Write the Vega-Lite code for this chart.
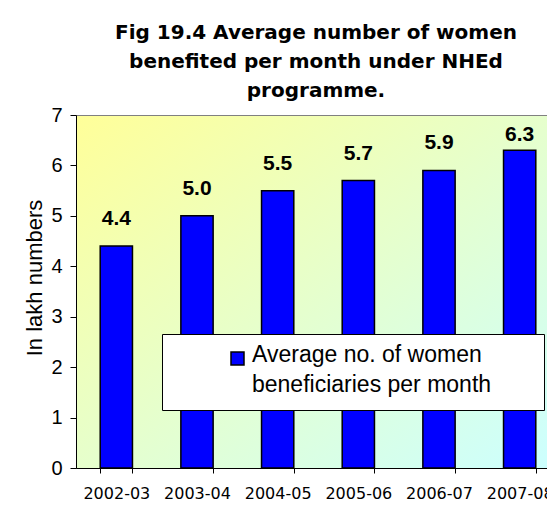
{
  "$schema": "https://vega.github.io/schema/vega-lite/v6.json",
  "autosize": {"type": "none"},
  "padding": {"left": 76, "top": 115, "right": 0, "bottom": 50},
  "width": 472,
  "height": 353,
  "background": "#ffffff",
  "view": {
    "fill": {"gradient": "linear", "x1": 0, "y1": 0, "x2": 1, "y2": 1,
      "stops": [{"offset": 0, "color": "#ffff99"}, {"offset": 0.5, "color": "#e6ffcc"}, {"offset": 1, "color": "#ccffff"}]},
    "stroke": "#808080",
    "strokeWidth": 1
  },
  "title": {
    "text": ["Fig 19.4  Average number of women", "benefited per month under NHEd", "programme."],
    "font": "DejaVu Sans",
    "fontSize": 20,
    "fontWeight": "bold",
    "color": "#000000",
    "lineHeight": 29,
    "anchor": "middle",
    "frame": "group",
    "baseline": "alphabetic",
    "offset": -12,
    "dx": 4
  },
  "data": {
    "values": [
      {"year": "2002-03", "value": 4.4, "series": "Average no. of women beneficiaries per month"},
      {"year": "2003-04", "value": 5.0, "series": "Average no. of women beneficiaries per month"},
      {"year": "2004-05", "value": 5.5, "series": "Average no. of women beneficiaries per month"},
      {"year": "2005-06", "value": 5.7, "series": "Average no. of women beneficiaries per month"},
      {"year": "2006-07", "value": 5.9, "series": "Average no. of women beneficiaries per month"},
      {"year": "2007-08", "value": 6.3, "series": "Average no. of women beneficiaries per month"}
    ]
  },
  "layer": [
    {
      "mark": {"type": "bar", "stroke": "#000000", "strokeWidth": 1.5},
      "encoding": {
        "x": {
          "field": "year", "type": "nominal", "sort": null,
          "scale": {"range": [0, 484], "paddingInner": 0.6, "paddingOuter": 0.3},
          "axis": {
            "title": null, "tickBand": "extent", "labelAngle": 0,
            "labelFont": "DejaVu Sans", "labelFontSize": 16, "labelColor": "#000000",
            "labelPadding": 12, "tickSize": 5, "tickColor": "#000000", "domainColor": "#000000"
          }
        },
        "y": {
          "field": "value", "type": "quantitative",
          "scale": {"domain": [0, 7], "nice": false},
          "axis": {
            "values": [0, 1, 2, 3, 4, 5, 6, 7], "grid": false,
            "title": "In lakh numbers", "titleFont": "Liberation Sans", "titleFontSize": 22,
            "titleFontWeight": "normal", "titleColor": "#000000", "titleAngle": -90,
            "titleX": -35, "titleY": 162.5, "titleAlign": "center", "titleBaseline": "alphabetic",
            "labelFont": "Liberation Sans", "labelFontSize": 20, "labelColor": "#000000",
            "labelPadding": 8, "labelFlush": false, "labelOverlap": false,
            "tickSize": 6, "tickColor": "#000000", "domainColor": "#000000"
          }
        },
        "color": {
          "field": "series", "type": "nominal",
          "scale": {"range": ["#0000ff"]},
          "legend": {
            "title": "\u00a0", "titleOrient": "right", "titlePadding": 40,
            "orient": "none", "legendX": 86, "legendY": 219, "padding": 13,
            "fillColor": "#ffffff", "strokeColor": "#000000",
            "symbolType": "square", "symbolSize": 169, "symbolStrokeColor": "#000000",
            "symbolStrokeWidth": 1.5, "symbolFillColor": "#0000ff", "symbolOffset": 51,
            "labelOffset": 3, "labelFont": "Liberation Sans", "labelFontSize": 23,
            "labelColor": "#000000", "labelLimit": 0,
            "labelExpr": "['Average no. of women', 'beneficiaries per month']",
            "encode": {"labels": {"update": {"lineHeight": {"value": 30}, "dy": {"value": -4}}}}
          }
        }
      }
    },
    {
      "transform": [{"filter": "datum.value <= 6.2"}],
      "mark": {"type": "text", "font": "Liberation Sans", "fontWeight": "bold", "fontSize": 21, "baseline": "alphabetic", "align": "center", "dy": -21, "color": "#000000"},
      "encoding": {
        "x": {"field": "year", "type": "nominal", "sort": null},
        "y": {"field": "value", "type": "quantitative"},
        "text": {"field": "value", "type": "quantitative", "format": ".1f"}
      }
    },
    {
      "transform": [{"filter": "datum.value > 6.2"}],
      "mark": {"type": "text", "font": "Liberation Sans", "fontWeight": "bold", "fontSize": 21, "baseline": "alphabetic", "align": "center", "dy": -9, "color": "#000000"},
      "encoding": {
        "x": {"field": "year", "type": "nominal", "sort": null},
        "y": {"field": "value", "type": "quantitative"},
        "text": {"field": "value", "type": "quantitative", "format": ".1f"}
      }
    }
  ]
}
